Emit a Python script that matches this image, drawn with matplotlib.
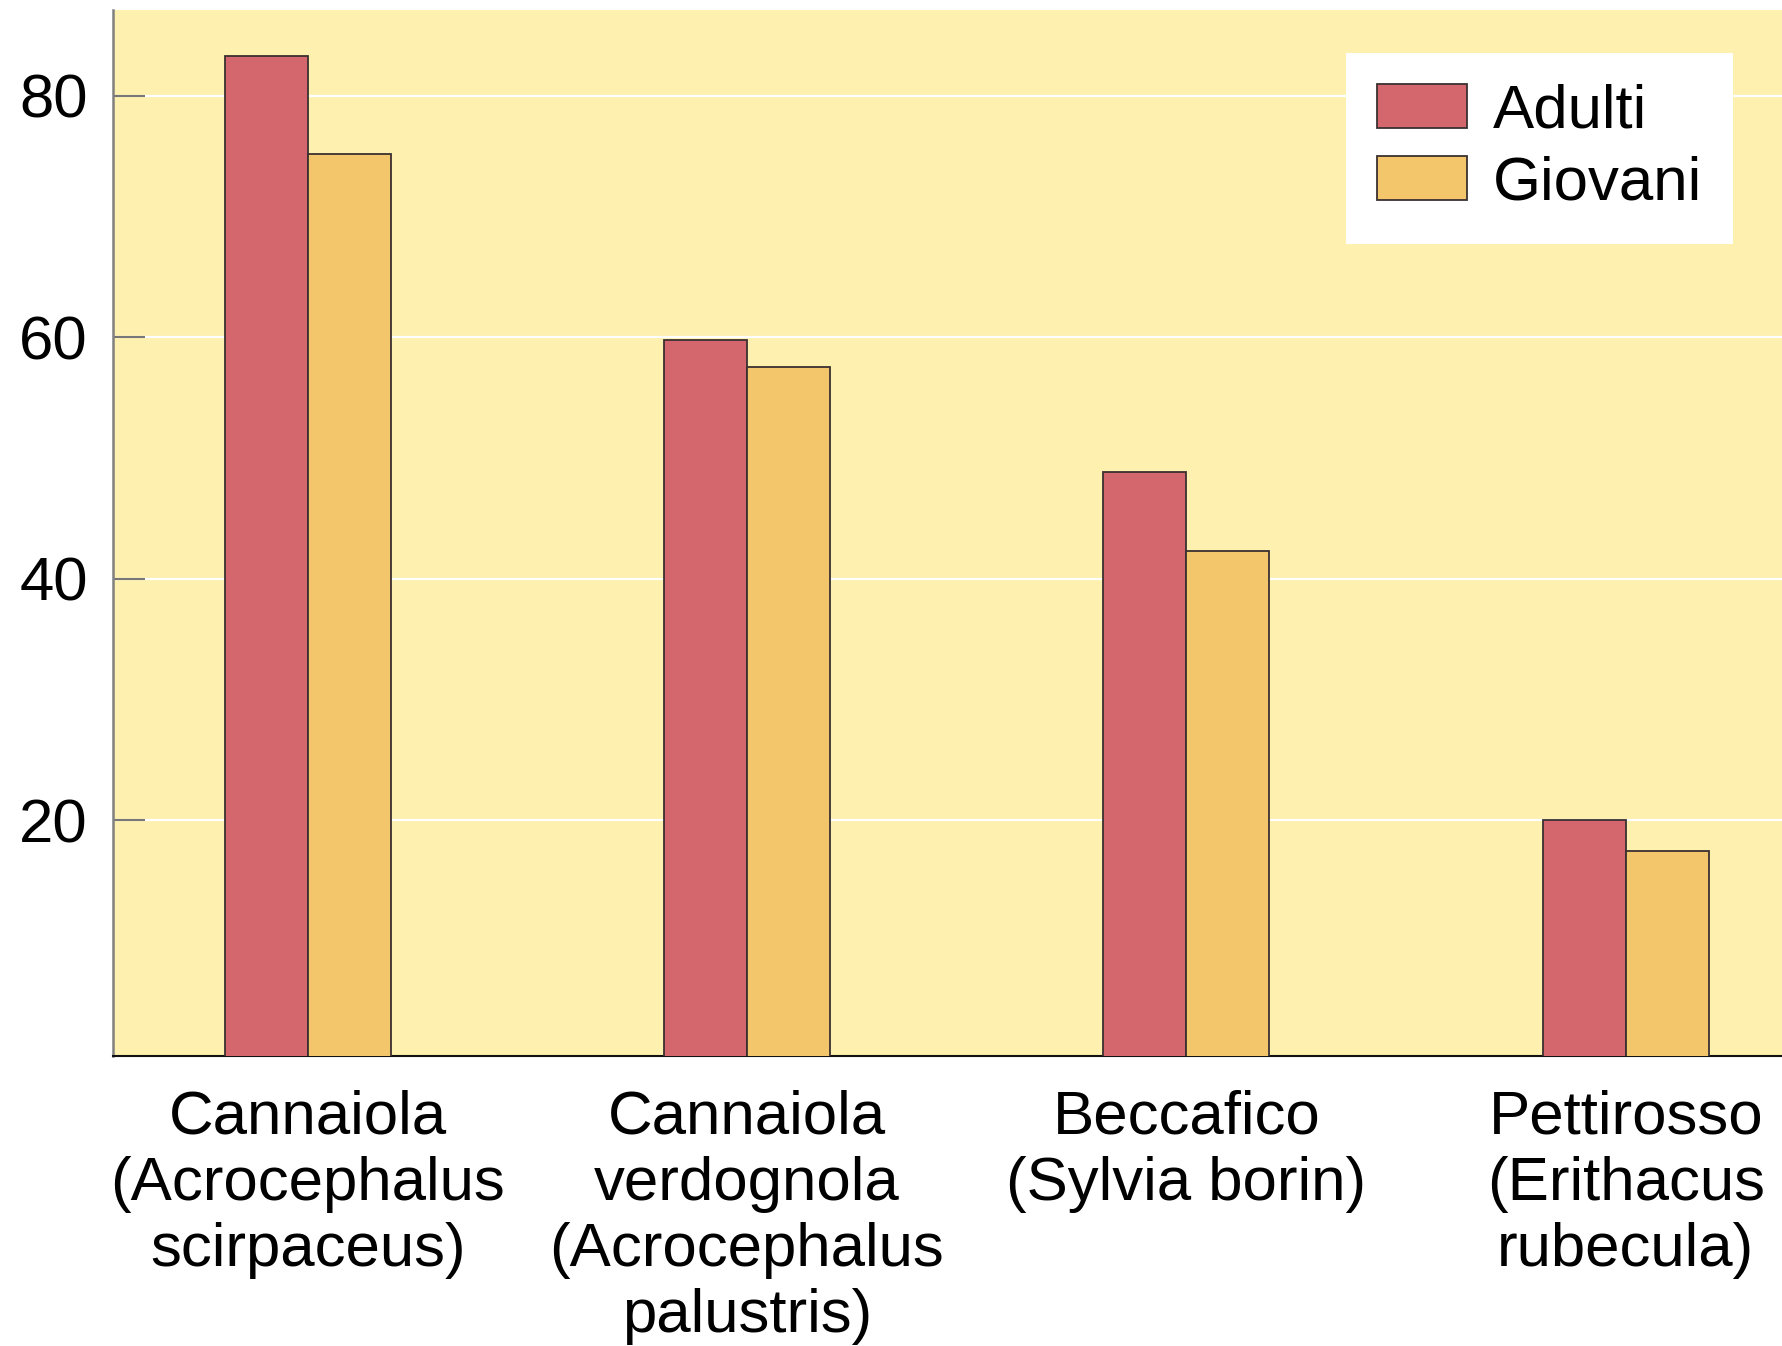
import matplotlib
matplotlib.use("Agg")
import matplotlib.pyplot as plt
import numpy as np

categories = [
    "Cannaiola\n(Acrocephalus\nscirpaceus)",
    "Cannaiola\nverdognola\n(Acrocephalus\npalustris)",
    "Beccafico\n(Sylvia borin)",
    "Pettirosso\n(Erithacus\nrubecula)",
]
adulti = [83.3, 59.8, 48.8, 20.0]
giovani = [75.2, 57.5, 42.3, 17.4]
series_labels = ["Adulti", "Giovani"]
yticks = [20, 40, 60, 80]

col_adulti = "#D4676E"
col_giovani = "#F3C66C"
bg = "#FEF0AE"
fs = 44.5

plt.rcParams['font.family'] = ['Liberation Sans', 'DejaVu Sans']

fig = plt.figure(figsize=(17.83, 13.46), dpi=100)
ax = fig.add_axes([113/1783, 1 - 1056/1346, 1 - 113/1783, (1056 - 10)/1346])
ax.set_facecolor(bg)

x = np.arange(len(categories))
w = 0.189
ax.bar(x - w/2, adulti, width=w, color=col_adulti, edgecolor="#3a3030",
       linewidth=1.3, label=series_labels[0], zorder=3)
ax.bar(x + w/2, giovani, width=w, color=col_giovani, edgecolor="#3a3030",
       linewidth=1.3, label=series_labels[1], zorder=3)

ax.set_xlim(-0.443, 3.358)
ax.set_ylim(0.45, 87.1)

ax.set_yticks(yticks)
ax.set_yticklabels([str(v) for v in yticks], fontsize=fs)
ax.tick_params(axis='y', direction='in', length=23, width=1.5, color='#777777', pad=18)
ax.grid(axis='y', color='white', linewidth=1.6, zorder=1)
ax.set_axisbelow(True)

ax.set_xticks(x)
ax.set_xticklabels(categories, fontsize=fs, linespacing=1.21)
ax.tick_params(axis='x', length=0, pad=24)

for s in ['top', 'right']:
    ax.spines[s].set_visible(False)
ax.spines['left'].set_color('#808080')
ax.spines['left'].set_linewidth(1.8)
ax.spines['bottom'].set_color('#111111')
ax.spines['bottom'].set_linewidth(1.5)

leg = ax.legend(loc='upper right', bbox_to_anchor=(0.970, 0.959), borderaxespad=0,
                fontsize=fs, frameon=True, fancybox=False, framealpha=1,
                facecolor='white', edgecolor='none', handlelength=1.45,
                handleheight=0.73, handletextpad=0.42, labelspacing=0.24,
                borderpad=0.5)

fig.savefig("out.png", dpi=100, facecolor='white')
